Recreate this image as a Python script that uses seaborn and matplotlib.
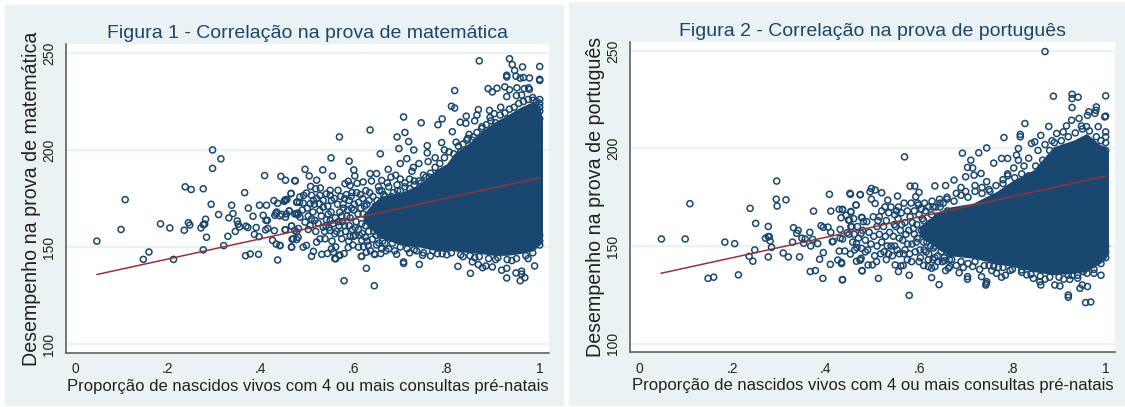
import matplotlib
matplotlib.use('Agg')
import matplotlib.pyplot as plt
from matplotlib.patches import Rectangle
import pandas as pd
import seaborn as sns

# Chart values
x_ticks = [0, 0.2, 0.4, 0.6, 0.8, 1]
x_tick_labels = ['0', '.2', '.4', '.6', '.8', '1']
y_ticks = [100, 150, 200, 250]
x_label = 'Proporção de nascidos vivos com 4 ou mais consultas pré-natais'

math_fit_x = [0.047, 1.0]
math_fit_y = [135.8, 185.6]
port_fit_x = [0.047, 1.0]
port_fit_y = [136.0, 185.8]

# Outline of the solid part of the cloud, where single points can't be read
math_cloud_x = [0.62, 0.656, 0.70, 0.74, 0.778, 0.80, 0.815, 0.85, 0.872, 0.90, 0.93, 0.958, 0.986, 1.0, 1.006]
math_cloud_low = [163, 155, 151, 150, 148, 148, 148, 147, 146.6, 145.7, 145.7, 146.6, 148, 151, 153]
math_cloud_high = [167, 176, 178, 182, 190, 193, 198, 204, 209, 214, 218, 222, 225, 222, 216]

port_cloud_x = [0.60, 0.645, 0.666, 0.716, 0.766, 0.802, 0.845, 0.888, 0.931, 0.959, 0.988, 1.0, 1.006]
port_cloud_low = [155, 148, 145, 143.7, 141, 139.4, 136.9, 135.2, 136, 136.9, 141, 143.5, 146]
port_cloud_high = [160, 168, 170, 172, 178, 183.8, 189, 200.9, 204.3, 207.7, 202, 201, 198]

math_points = [
    (.047, 153), (.099, 159), (.108, 174.4), (.147, 143.6), (.159, 147.4), (.184, 161.9), (.204, 159.8),
    (.212, 143.6), (.235, 158.6), (.237, 181), (.25, 179.6), (.244, 162.5), (.247, 161.3), (.271, 159.8),
    (.276, 180), (.276, 161.5), (.279, 161.8), (.281, 164.3), (.283, 155), (.276, 148.5), (.293, 172),
    (.296, 190.5), (.296, 200), (.314, 195.4), (.309, 166.7), (.32, 150.7), (.329, 155.5), (.331, 165),
    (.337, 171.5), (.34, 167.2), (.349, 163.4), (.351, 161.7), (.354, 160.3), (.345, 158), (.368, 160.7),
    (.372, 160), (.367, 145.5), (.377, 146.4), (.365, 178), (.373, 170), (.383, 165.8), (.39, 160),
    (.386, 156.5), (.396, 155.3), (.395, 146.2), (.397, 171.5), (.412, 171.5), (.405, 166.3), (.408, 186.8),
    (.411, 163.7), (.414, 163.7), (.41, 158.8), (.415, 159.6), (.425, 153.4), (.429, 158.4), (.428, 173.9),
    (.436, 172.5), (.43, 166.3), (.434, 168), (.432, 167.3), (.433, 151.5), (.441, 150.7), (.436, 143.3),
    (.443, 186.4), (.453, 184.4), (.445, 166.8), (.453, 165.3), (.45, 173.5), (.453, 174.4), (.461, 168.6),
    (.465, 177.5), (.473, 184.2), (.453, 158.8), (.466, 160.8), (.467, 154), (.466, 150), (.478, 173.2),
    (.484, 175.8), (.476, 167.2), (.48, 166.7), (.477, 157.7), (.477, 153.8), (.481, 159.5),
    # upper edge
    (.87, 245.9), (.935, 247), (.941, 244), (.963, 242.8), (1.0, 243), (.946, 241), (.929, 238.5),
    (.929, 237.6), (.949, 238), (.958, 237), (.965, 237.3), (.978, 237.1), (1.0, 236.4), (1.0, 235.8),
    (.889, 231.6), (.898, 229.9), (.908, 231.8), (.925, 232.5), (.935, 231), (.929, 227.5), (.817, 230.6),
    (.951, 232), (.967, 231.6), (.978, 231.2), (.976, 232), (.95, 228), (.961, 228.3), (.986, 225.6),
    (.81, 222.5), (.817, 221.6), (.868, 220.8), (.892, 220.4), (.916, 222), (.865, 218), (.842, 217.4),
    (.902, 218.7), (.893, 216.7), (.707, 217), (.79, 216), (.781, 213), (.745, 214), (.829, 214.3),
    (.841, 213.7), (.86, 215), (.635, 210.3), (.569, 206.7), (.71, 209), (.693, 206.7), (.718, 204.3),
    (.697, 200.7), (.812, 209.4), (.848, 208), (.857, 206.7), (.789, 203.8), (.758, 202.2), (.729, 200),
    (.758, 198.5), (.657, 198), (.551, 195.9), (.59, 194.2), (.495, 190), (.6, 189.7), (.533, 189.7),
    (.554, 186.6), (.602, 186.6), (.504, 186.6), (.474, 184), (.52, 184.4), (.635, 187.8), (.649, 187.8),
    (.674, 190), (.714, 195.5), (.70, 193), (.728, 191), (.75, 187), (.725, 189), (.74, 193), (.76, 194),
    (.775, 196), (.795, 200), (.82, 204), (.83, 199), (.843, 205), (.876, 212), (1.0, 226), (1.0, 222),
    # lower edge
    (.579, 132.6), (.644, 130), (.627, 139), (.707, 142.3), (.707, 141.5), (.741, 141), (.748, 145.7),
    (.765, 145.4), (.824, 140), (.851, 136.4), (.855, 142.3), (.868, 140.9), (.877, 139.3), (.884, 140.2),
    (.898, 139.7), (.918, 138), (.929, 139), (.929, 134), (.949, 136.6), (.961, 137.5), (.961, 136),
    (.968, 134.2), (.958, 132.6), (.989, 140.2), (.616, 145.2), (.644, 146.4), (.658, 146.6), (.692, 146.2),
    (.588, 149.7), (.559, 144), (.569, 145.9), (.579, 146.6), (.531, 146.2), (.543, 146.6), (.509, 145.2),
    (.513, 147.7), (.491, 149.9), (.498, 150.8), (.466, 149.9), (.72, 147), (.735, 148), (.78, 146.5),
    (.8, 146), (.835, 145), (.86, 144.5), (.905, 143.5), (.94, 143), (.975, 144),
    # middle band, zoomed crop
    (.492, 176.6), (.498, 177.8), (.507, 181.2), (.518, 180), (.528, 180.4), (.541, 177.4), (.549, 179.2),
    (.566, 179.2), (.581, 182.6), (.588, 183.8), (.592, 181.7), (.607, 182.8), (.62, 183.5), (.638, 184),
    (.66, 184.3), (.465, 177.6), (.452, 174), (.456, 174.5), (.477, 173), (.483, 173), (.491, 172.6),
    (.509, 176.6), (.513, 174), (.506, 172.3), (.527, 176.6), (.534, 174), (.526, 172.3), (.549, 176.6),
    (.552, 174), (.441, 166), (.455, 167), (.461, 168.5), (.473, 167), (.48, 167.5), (.502, 166),
    (.509, 164.5), (.516, 163.7), (.506, 161), (.495, 162.8), (.484, 165.4), (.527, 168.8), (.534, 170.5),
    (.545, 167), (.549, 163.7), (.534, 160.2), (.523, 162.3), (.452, 158.9), (.466, 160.8), (.473, 158.5),
    (.47, 154.2), (.48, 155), (.441, 150.8), (.52, 152.5), (.527, 154.2), (.538, 154.2), (.552, 149),
    (.556, 147.3), (.561, 143.9), (.57, 145.6), (.574, 154.2), (.559, 156.8), (.549, 158.5), (.592, 155.4),
    (.599, 155.4), (.617, 153.4), (.61, 149.9), (.627, 147.3), (.631, 150.8), (.645, 146.1), (.617, 145.1),
    (.565, 172), (.572, 176), (.578, 170), (.585, 166), (.59, 174), (.596, 178), (.6, 169), (.605, 163),
    (.61, 173), (.614, 177), (.62, 167), (.625, 161), (.628, 172), (.634, 178), (.64, 169), (.645, 163),
    (.65, 174), (.655, 179), (.56, 165), (.568, 161), (.575, 163), (.582, 158), (.59, 161), (.597, 159),
    (.603, 156), (.61, 159), (.618, 157), (.625, 155), (.632, 158), (.64, 154), (.648, 156), (.654, 152),
    (.66, 149), (.667, 152), (.675, 149), (.683, 152), (.66, 179), (.668, 176), (.675, 181), (.685, 178),
    (.693, 182), (.70, 185), (.71, 183), (.72, 185), (.73, 182), (.74, 184), (.75, 181), (.763, 186),
    (.77, 183), (.68, 186), (.69, 187), (.655, 168), (.66, 160), (.57, 168), (.58, 175), (.595, 170),
]

# rings along the rim of the solid part and in the busy band left of it
math_rim = [
    (.70, 179), (.71, 181), (.72, 180), (.73, 184), (.745, 183), (.755, 186), (.765, 188), (.775, 191),
    (.785, 193), (.795, 196), (.805, 199), (.815, 198), (.825, 202), (.835, 203), (.845, 206), (.855, 205),
    (.865, 209), (.875, 211), (.885, 213), (.895, 215), (.905, 214), (.915, 218), (.925, 219), (.935, 221),
    (.945, 222), (.955, 224), (.965, 225), (.975, 226), (.985, 227), (.993, 225), (1, 224), (1, 220), (1, 216),
    (.70, 150), (.715, 149), (.73, 148.6), (.75, 147), (.77, 148), (.79, 146.5), (.81, 147), (.83, 146),
    (.85, 145.5), (.87, 145), (.89, 144), (.91, 144.5), (.93, 143.5), (.95, 144), (.97, 145.5), (.985, 147),
    (1, 151), (1, 153), (1, 156),
    (.563, 158), (.566, 163), (.571, 157), (.574, 166), (.577, 172), (.58, 161), (.584, 177), (.587, 169),
    (.589, 153), (.592, 165), (.594, 176), (.598, 151), (.601, 172), (.603, 160), (.606, 178), (.609, 167),
    (.612, 156), (.615, 170), (.617, 162), (.619, 175), (.621, 150), (.623, 171), (.626, 179), (.629, 153),
    (.631, 164), (.633, 174), (.636, 148), (.638, 161), (.641, 176), (.643, 158), (.646, 171), (.649, 151),
    (.651, 166), (.653, 181), (.657, 156), (.659, 172), (.662, 153), (.664, 177), (.669, 148), (.672, 183),
    (.678, 155), (.681, 176), (.688, 148), (.694, 179), (.541, 164), (.544, 171), (.547, 160), (.551, 168),
    (.553, 153), (.555, 162), (.558, 175), (.561, 150), (.502, 159), (.512, 168), (.518, 158), (.53, 166),
    (.537, 158), (.54, 161), (.489, 169), (.5, 170), (.515, 172), (.52, 175),
]

port_points = [
    (.048, 153.6), (.099, 153.6), (.109, 171.7), (.148, 133.4), (.16, 134), (.184, 152), (.205, 151.2),
    (.213, 135.2), (.236, 144.7), (.238, 169.3), (.244, 142.2), (.248, 148), (.25, 161.6), (.271, 154),
    (.277, 154.8), (.279, 154.8), (.281, 152.6), (.277, 144.4), (.277, 160), (.284, 149.3), (.294, 174),
    (.295, 183.3), (.296, 170.5), (.309, 146.4), (.315, 173.7), (.32, 144.4), (.329, 152), (.331, 159.4),
    (.338, 156.5), (.341, 158), (.344, 144.4), (.349, 154), (.353, 151.4), (.356, 153.6), (.366, 157),
    (.367, 136.9), (.368, 150), (.372, 153.4), (.374, 167.9), (.378, 137.4), (.383, 151.2), (.387, 143.2),
    (.39, 160.4), (.395, 159.6), (.395, 146.6), (.394, 133.4), (.405, 159.7), (.408, 176.5), (.411, 157),
    (.41, 140.6), (.411, 167.9), (.414, 152.2), (.416, 152.4), (.426, 142.8), (.429, 168.8), (.436, 168.6),
    (.431, 158.5), (.433, 164.5), (.431, 154), (.436, 153.6), (.429, 147.4), (.434, 141.6), (.441, 147.4),
    (.436, 132.8), (.444, 165.7), (.446, 156.8), (.451, 163.3), (.454, 167.4), (.453, 176.5), (.454, 159.9),
    (.453, 145.9), (.461, 156), (.465, 171), (.474, 176.3), (.466, 151.4), (.467, 149.1), (.466, 142.2),
    (.478, 164.5), (.476, 156.5), (.474, 142.8), (.476, 143.7), (.478, 137.2), (.481, 162.5), (.477, 148.8),
    # upper edge
    (.87, 249.7), (.888, 226.8), (.928, 227.8), (.928, 225.6), (.941, 226.3), (1.0, 227), (.928, 221),
    (.98, 221.3), (.979, 219.6), (.977, 218), (.964, 218.8), (.961, 217), (1.0, 216.6), (.998, 216.2),
    (.943, 215.4), (.927, 214.5), (.827, 212.8), (.878, 211.3), (.916, 211.6), (.948, 211.5), (.959, 211.2),
    (.984, 211.2), (1.0, 208.5), (1.0, 206), (.817, 207.2), (.817, 206), (.782, 205.6), (.861, 206.7),
    (.848, 203.4), (.841, 202.6), (.813, 200), (.745, 200.3), (.728, 197.8), (.693, 197.6), (.569, 195.7),
    (.76, 192.5), (.777, 194.9), (.79, 194.9), (.704, 190.3), (.711, 194), (.715, 190), (.809, 196.6),
    (.813, 194), (.895, 207.7), (.909, 208.5), (.7, 185.5), (.718, 186.3), (.733, 187.2), (.675, 183.8),
    (.657, 181), (.634, 180.8), (.581, 180.7), (.591, 180.7), (.6, 177.5), (.593, 175.3), (.554, 175.6),
    (.52, 177.3), (.498, 179.5), (.506, 178.7), (.495, 177.8), (.474, 176.4), (.452, 177), (.533, 173.5),
    (.527, 170), (.465, 171), (.498, 174), (.506, 171.8), (.454, 167.7), (.436, 168.8), (.449, 163.3),
    (.456, 159.9), (.477, 164.7), (.488, 162.5), (.502, 165), (.68, 177), (.69, 180), (.70, 178), (.72, 181),
    (.735, 180), (.745, 183), (.752, 178), (.78, 184), (.79, 187), (.803, 190), (.825, 191), (.835, 195),
    (.855, 199), (.87, 202), (.885, 204),
    # lower edge
    (.579, 124.7), (.643, 130.2), (.579, 135), (.627, 133.8), (.513, 133.4), (.436, 132.6), (.478, 137.4),
    (.704, 133), (.704, 134.3), (.743, 130), (.745, 131.7), (.744, 130.8), (.734, 134.3), (.686, 136.3),
    (.657, 137.4), (.777, 134), (.785, 135), (.766, 136), (.756, 137.4), (.861, 130), (.859, 131.7),
    (.845, 133.4), (.891, 130), (.902, 129.5), (.92, 124.9), (.92, 123.7), (.945, 128.3), (.95, 130),
    (.961, 129.2), (.957, 121), (.968, 121.3), (.99, 135), (.923, 132.9), (.928, 135), (.952, 136.9),
    (.831, 135.2), (.82, 137.7), (.556, 136.9), (.549, 140.3), (.561, 139.8), (.491, 140.3), (.5, 140.3),
    (.509, 142), (.474, 142.8), (.62, 139.4), (.627, 138.6), (.634, 139.4), (.663, 138.6), (.666, 139.4),
    (.434, 141), (.68, 140), (.695, 139), (.715, 139.5), (.73, 138), (.75, 140), (.77, 139), (.795, 137.5),
    (.87, 133), (.91, 133), (.94, 133.5), (.975, 136),
    # middle band, zoomed crop
    (.45, 156), (.458, 152), (.462, 148), (.47, 154), (.479, 158), (.485, 153), (.49, 148), (.497, 151),
    (.503, 155), (.51, 160), (.515, 156), (.52, 152), (.525, 147), (.53, 143), (.535, 146), (.54, 150),
    (.545, 155), (.55, 160), (.555, 164), (.56, 158), (.565, 153), (.57, 148), (.575, 143), (.58, 146),
    (.585, 151), (.59, 156), (.595, 161), (.6, 166), (.605, 158), (.61, 152), (.615, 147), (.62, 143),
    (.625, 150), (.63, 155), (.635, 160), (.64, 165), (.645, 170), (.65, 162), (.655, 154), (.66, 147),
    (.665, 143), (.65, 142), (.64, 145), (.515, 165), (.52, 168), (.53, 163), (.535, 167), (.54, 170),
    (.548, 166), (.556, 170), (.562, 167), (.568, 172), (.575, 168), (.583, 172), (.59, 168), (.597, 172),
    (.605, 169), (.612, 172), (.62, 170), (.628, 173), (.636, 170), (.644, 174), (.652, 172), (.66, 175),
    (.57, 162), (.578, 158), (.586, 162), (.594, 152), (.602, 148), (.61, 163), (.618, 157), (.626, 162),
    (.634, 150), (.642, 155), (.65, 149), (.658, 165), (.548, 150), (.558, 146), (.566, 140), (.6, 142),
    (.61, 140), (.63, 143),
]

port_rim = [
    (.63, 170), (.645, 172), (.66, 174), (.675, 173), (.69, 176), (.705, 175), (.72, 178), (.735, 177),
    (.75, 179), (.765, 181), (.78, 182), (.79, 186), (.805, 185), (.82, 187), (.835, 186), (.85, 191),
    (.865, 194), (.88, 199), (.89, 203), (.905, 204), (.92, 206), (.935, 208), (.95, 210), (.965, 209),
    (.98, 206), (.99, 204), (1, 203), (1, 199),
    (.64, 142), (.655, 142.5), (.67, 143), (.69, 142), (.705, 141), (.72, 142), (.74, 140), (.76, 139.5),
    (.78, 139), (.80, 138), (.82, 136.5), (.84, 135.5), (.86, 134.5), (.88, 134), (.90, 134), (.92, 135),
    (.94, 135), (.96, 136), (.975, 138), (.99, 141), (1, 144), (1, 147), (1, 150),
    (.553, 148), (.558, 154), (.563, 161), (.567, 146), (.572, 156), (.576, 151), (.581, 165), (.584, 142),
    (.588, 159), (.592, 147), (.596, 154), (.599, 171), (.603, 144), (.607, 164), (.611, 148), (.614, 168),
    (.617, 152), (.621, 146), (.624, 158), (.627, 166), (.631, 149), (.634, 144), (.637, 155), (.641, 160),
    (.644, 151), (.647, 147), (.651, 158), (.654, 144), (.657, 150), (.661, 168), (.664, 156), (.668, 146),
    (.51, 150), (.518, 146), (.524, 160), (.528, 155), (.532, 150), (.537, 157), (.543, 145), (.547, 161),
    (.552, 168), (.46, 164), (.468, 160), (.485, 147), (.493, 157), (.505, 145), (.512, 163),
]

BG = '#eaf2f3'
NAVY = '#1a476f'
MAROON = '#90353b'
AXIS = '#555555'
W, H = 1125, 407

sns.set_theme(style='white')
plt.rcParams['font.family'] = ['Liberation Sans', 'DejaVu Sans']


def draw_panel(fig, box, title, y_label, points, cloud_x, cloud_low, cloud_high, fit_x, fit_y, xlim, ylim):
    left, top, right, bottom = box
    ax = fig.add_axes([left / W, 1 - bottom / H, (right - left) / W, (bottom - top) / H])
    ax.set_facecolor('white')
    ax.set_axisbelow(True)
    ax.yaxis.grid(True, color=BG, linewidth=1.6)
    ax.xaxis.grid(False)

    df = pd.DataFrame(points, columns=['x', 'y'])
    ax.fill_between(cloud_x, cloud_low, cloud_high, color=NAVY, linewidth=0, zorder=2)
    sns.scatterplot(data=df, x='x', y='y', ax=ax, marker='o', s=19, facecolor='none',
                    edgecolor=NAVY, linewidth=1.1, legend=False, zorder=3)
    sns.lineplot(x=fit_x, y=fit_y, ax=ax, color=MAROON, linewidth=1.1, zorder=4)

    ax.set_xlim(*xlim)
    ax.set_ylim(*ylim)
    ax.set_xticks(x_ticks)
    ax.set_xticklabels(x_tick_labels)
    ax.set_yticks(y_ticks)
    ax.set_yticklabels([str(v) for v in y_ticks], rotation=90, va='center')
    ax.tick_params(axis='x', length=4, width=0.9, color=AXIS, labelsize=10, labelcolor='#222222', pad=3)
    ax.tick_params(axis='y', length=4, width=0.9, color=AXIS, labelsize=10, labelcolor='#222222', pad=3)

    for side in ['top', 'right']:
        ax.spines[side].set_visible(False)
    for side in ['left', 'bottom']:
        ax.spines[side].set_color(AXIS)
        ax.spines[side].set_linewidth(1.1)

    ax.set_title(title, color=NAVY, fontsize=14, pad=4)
    ax.set_xlabel(x_label, fontsize=12, color='#222222', labelpad=1.5)
    ax.set_ylabel(y_label, fontsize=14.1, color='#222222', labelpad=1)
    return ax


fig = plt.figure(figsize=(W / 100, H / 100), dpi=100, facecolor='white')
fig.add_artist(Rectangle((5 / W, 1 - 406 / H), 559 / W, 401 / H, transform=fig.transFigure, color=BG, lw=0, zorder=-1))
fig.add_artist(Rectangle((569 / W, 1 - 406 / H), 556 / W, 404 / H, transform=fig.transFigure, color=BG, lw=0, zorder=-1))

draw_panel(fig, (66, 44, 549, 352.7), 'Figura 1 - Correlação na prova de matemática',
           'Desempenho na prova de matemática', math_points + math_rim,
           math_cloud_x, math_cloud_low, math_cloud_high, math_fit_x, math_fit_y,
           (-0.0194, 1.02), (95.5, 254.6))
draw_panel(fig, (630, 42, 1115, 352.3), 'Figura 2 - Correlação na prova de português',
           'Desempenho na prova de português', port_points + port_rim,
           port_cloud_x, port_cloud_low, port_cloud_high, port_fit_x, port_fit_y,
           (-0.0193, 1.02), (95.5, 254.6))

fig.savefig('out.png', dpi=100)
